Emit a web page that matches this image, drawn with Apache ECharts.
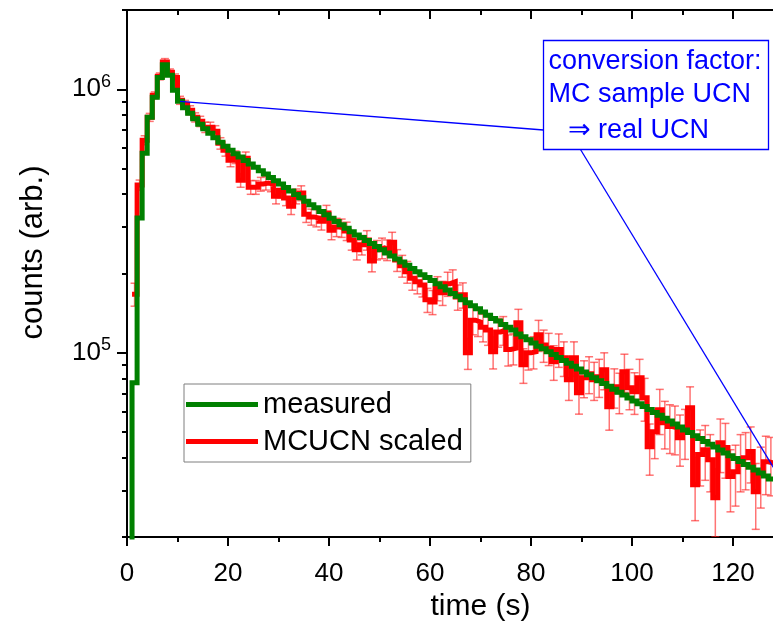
<!DOCTYPE html>
<html>
<head>
<meta charset="utf-8">
<script src="https://cdn.jsdelivr.net/npm/echarts@6/dist/echarts.min.js"></script>
<style>
  html, body { margin: 0; padding: 0; background: #ffffff; }
  #chart { width: 773px; height: 628px; }
</style>
</head>
<body>
<div id="chart"></div>
<script>
// Time histograms with 1 s bins; each array entry is the count of one bin.
const BIN_WIDTH = 1;            // s
const MEASURED_FIRST_BIN = 0;   // left edge of the first measured bin (s)
const MC_FIRST_BIN = 1;         // left edge of the first simulated bin (s)

// measured counts, bins starting at 0 s
const measured = [
  5000, 7.70e4, 3.25e5, 5.72e5, 7.83e5, 9.33e5, 1.11e6, 1.24e6, 1.13e6, 9.91e5,
  9.01e5, 8.51e5, 8.11e5, 7.73e5, 7.37e5, 7.09e5, 6.81e5, 6.55e5, 6.30e5, 6.08e5,
  5.87e5, 5.70e5, 5.53e5, 5.37e5, 5.21e5, 5.06e5, 4.91e5, 4.77e5, 4.63e5, 4.50e5,
  4.37e5, 4.24e5, 4.11e5, 3.99e5, 3.88e5, 3.76e5, 3.65e5, 3.55e5, 3.44e5, 3.34e5,
  3.24e5, 3.15e5, 3.06e5, 2.97e5, 2.88e5, 2.80e5, 2.74e5, 2.67e5, 2.60e5, 2.53e5,
  2.46e5, 2.39e5, 2.33e5, 2.27e5, 2.21e5, 2.15e5, 2.09e5, 2.03e5, 1.98e5, 1.93e5,
  1.88e5, 1.83e5, 1.78e5, 1.73e5, 1.68e5, 1.64e5, 1.59e5, 1.55e5, 1.51e5, 1.47e5,
  1.43e5, 1.39e5, 1.35e5, 1.32e5, 1.28e5, 1.25e5, 1.22e5, 1.18e5, 1.15e5, 1.12e5,
  1.09e5, 1.06e5, 1.036e5, 1.010e5, 9.85e4, 9.60e4, 9.36e4, 9.13e4, 8.90e4, 8.68e4,
  8.46e4, 8.25e4, 8.04e4, 7.84e4, 7.65e4, 7.46e4, 7.27e4, 7.09e4, 6.91e4, 6.74e4,
  6.57e4, 6.41e4, 6.25e4, 6.09e4, 5.94e4, 5.79e4, 5.65e4, 5.51e4, 5.37e4, 5.23e4,
  5.10e4, 4.98e4, 4.85e4, 4.73e4, 4.61e4, 4.50e4, 4.39e4, 4.28e4, 4.17e4, 4.07e4,
  3.97e4, 3.87e4, 3.77e4, 3.68e4, 3.59e4, 3.50e4, 3.41e4, 3.32e4
];

// MCUCN simulation scaled to real UCN, bins starting at 1 s
const mcScaled = [
  1.67e5, 4.33e5, 6.41e5, 7.83e5, 9.49e5, 1.12e6, 1.27e6, 1.16e6, 1.11e6, 9.09e5,
  8.77e5, 8.33e5, 7.83e5, 7.56e5, 7.18e5, 7.18e5, 6.93e5, 6.24e5, 5.87e5, 5.38e5,
  5.53e5, 4.52e5, 5.48e5, 4.25e5, 4.25e5, 4.37e5, 4.41e5, 4.37e5, 3.93e5, 4.14e5,
  3.87e5, 3.60e5, 3.93e5, 4.04e5, 3.36e5, 3.28e5, 3.25e5, 3.16e5, 3.39e5, 2.92e5,
  3.00e5, 2.98e5, 2.90e5, 2.68e5, 2.46e5, 2.57e5, 2.68e5, 2.23e5, 2.46e5, 2.50e5,
  2.46e5, 2.63e5, 2.25e5, 2.14e5, 2.03e5, 1.92e5, 1.86e5, 1.81e5, 1.59e5, 1.56e5,
  1.76e5, 1.69e5, 1.83e5, 1.86e5, 1.63e5, 1.66e5, 1.00e5, 1.33e5, 1.31e5, 1.25e5,
  1.22e5, 1.01e5, 1.20e5, 1.22e5, 1.03e5, 1.04e5, 1.30e5, 9.01e4, 1.00e5, 1.01e5,
  1.17e5, 1.07e5, 1.04e5, 9.25e4, 1.03e5, 9.57e4, 7.90e4, 9.57e4, 7.05e4, 8.04e4,
  8.33e4, 7.90e4, 8.11e4, 8.62e4, 6.24e4, 7.43e4, 7.12e4, 8.48e4, 7.37e4, 7.12e4,
  8.04e4, 6.75e4, 4.40e4, 5.02e4, 6.08e4, 5.43e4, 5.25e4, 5.19e4, 4.76e4, 5.02e4,
  6.19e4, 3.16e4, 4.11e4, 4.29e4, 3.93e4, 2.82e4, 4.56e4, 4.37e4, 3.39e4, 3.54e4,
  3.93e4, 4.00e4, 4.22e4, 2.97e4, 3.48e4, 3.86e4, 3.82e4
];

// relative statistical error of each simulated bin
const mcRelErr = [
  0.10, 0.045, 0.04, 0.035, 0.03, 0.03, 0.03, 0.03, 0.03, 0.035,
  0.035, 0.04, 0.04, 0.045, 0.045, 0.045, 0.05, 0.05, 0.05, 0.055,
  0.055, 0.06, 0.055, 0.06, 0.06, 0.06, 0.06, 0.065, 0.065, 0.065,
  0.065, 0.07, 0.065, 0.065, 0.07, 0.07, 0.075, 0.075, 0.07, 0.08,
  0.08, 0.08, 0.08, 0.085, 0.085, 0.085, 0.085, 0.09, 0.085, 0.09,
  0.09, 0.09, 0.095, 0.095, 0.095, 0.10, 0.10, 0.10, 0.105, 0.105,
  0.105, 0.105, 0.105, 0.11, 0.11, 0.11, 0.135, 0.12, 0.12, 0.12,
  0.125, 0.14, 0.125, 0.125, 0.135, 0.135, 0.125, 0.15, 0.14, 0.14,
  0.135, 0.14, 0.14, 0.15, 0.145, 0.15, 0.165, 0.15, 0.17, 0.16,
  0.16, 0.165, 0.165, 0.16, 0.185, 0.17, 0.175, 0.165, 0.175, 0.18,
  0.175, 0.185, 0.22, 0.21, 0.195, 0.205, 0.21, 0.21, 0.22, 0.215,
  0.20, 0.27, 0.24, 0.235, 0.245, 0.29, 0.23, 0.235, 0.265, 0.26,
  0.245, 0.245, 0.24, 0.28, 0.26, 0.25, 0.25
];

// axes
const X_MIN = 0, X_MAX = 140, X_STEP = 20;
const Y_MIN = 2e4, Y_MAX = 2e6;
const yMajorTicks = [1e5, 1e6];
const yMinorTicks = [2e4, 3e4, 4e4, 5e4, 6e4, 7e4, 8e4, 9e4,
                     2e5, 3e5, 4e5, 5e5, 6e5, 7e5, 8e5, 9e5, 2e6];

// annotation anchors (time, counts) on the measured curve
const noteAnchorStart = [10.5, 9.0e5];
const noteAnchorEnd = [128, 3.67e4];
const noteLines = ['conversion factor:', 'MC sample UCN', '\u21D2 real UCN'];

const FONT = 'Liberation Sans, Arial, Helvetica, sans-serif';

// step outline of a histogram: left edge of every bin plus the closing right edge
function histogramOutline(firstEdge, counts) {
  const pts = counts.map((c, i) => [firstEdge + i * BIN_WIDTH, c]);
  pts.push([firstEdge + counts.length * BIN_WIDTH, counts[counts.length - 1]]);
  return pts;
}

function errorBars(firstEdge, counts, rel) {
  return counts.map((c, i) => [firstEdge + (i + 0.5) * BIN_WIDTH, c * (1 - rel[i]), c * (1 + rel[i])]);
}

const chart = echarts.init(document.getElementById('chart'), null, { renderer: 'canvas' });

const option = {
  animation: false,
  backgroundColor: '#ffffff',
  textStyle: { fontFamily: FONT },
  grid: { left: 127, top: 10, right: -61, bottom: 91, outerBoundsMode: 'none', containLabel: false },
  legend: {
    orient: 'vertical',
    left: 184, top: 384,
    data: ['measured', 'MCUCN scaled'],
    icon: 'rect',
    itemWidth: 72, itemHeight: 5,
    itemGap: 8,
    padding: [6, 8, 6, 2],
    borderColor: '#7f7f7f', borderWidth: 1,
    backgroundColor: '#ffffff',
    textStyle: { fontSize: 29, color: '#000', fontFamily: FONT }
  },
  xAxis: [
    {
      type: 'value', position: 'bottom', min: X_MIN, max: X_MAX, interval: X_STEP,
      name: 'time (s)', nameLocation: 'middle', nameGap: 55,
      nameTextStyle: { fontSize: 30, color: '#000', fontFamily: FONT },
      axisLine: { show: true, onZero: false, lineStyle: { color: '#000', width: 2 } },
      axisTick: { show: true, inside: false, length: 9, lineStyle: { color: '#000', width: 2 } },
      minorTick: { show: true, splitNumber: 2, length: 5, lineStyle: { color: '#000', width: 2 } },
      axisLabel: { show: true, margin: 24, fontSize: 26, color: '#000', fontFamily: FONT },
      splitLine: { show: false }, minorSplitLine: { show: false }
    },
    {
      type: 'value', position: 'top', min: X_MIN, max: X_MAX, interval: X_STEP,
      axisLine: { show: true, onZero: false, lineStyle: { color: '#000', width: 2 } },
      axisTick: { show: true, inside: true, length: 9, lineStyle: { color: '#000', width: 2 } },
      minorTick: { show: true, splitNumber: 2, length: 5, lineStyle: { color: '#000', width: 2 } },
      axisLabel: { show: false },
      splitLine: { show: false }
    }
  ],
  yAxis: [
    {
      type: 'log', logBase: 10, position: 'left', min: Y_MIN, max: Y_MAX,
      name: 'counts (arb.)', nameLocation: 'middle', nameGap: 78, nameRotate: 90,
      nameTextStyle: { fontSize: 31, color: '#000', fontFamily: FONT, padding: [0, 0, 0, 42] },
      axisLine: { show: true, onZero: false, lineStyle: { color: '#000', width: 2 } },
      axisTick: { show: true, inside: false, length: 10, customValues: yMajorTicks,
                  lineStyle: { color: '#000', width: 2 } },
      axisLabel: {
        show: true, margin: 16, customValues: yMajorTicks,
        fontSize: 26, color: '#000', fontFamily: FONT,
        formatter: v => '10{sup|' + Math.round(Math.log10(v)) + '}',
        rich: { sup: { fontSize: 18, color: '#000', fontFamily: FONT, padding: [0, 0, 15, 0] } }
      },
      splitLine: { show: false }
    },
    {
      type: 'log', logBase: 10, position: 'left', min: Y_MIN, max: Y_MAX,
      axisLine: { show: false },
      axisTick: { show: true, inside: false, length: 5, customValues: yMinorTicks,
                  lineStyle: { color: '#000', width: 2 } },
      axisLabel: { show: false },
      splitLine: { show: false }
    }
  ],
  series: [
    {
      name: 'MCUCN errors',
      type: 'custom',
      xAxisIndex: 0, yAxisIndex: 0,
      clip: true,
      z: 2,
      encode: { x: 0, y: [1, 2] },
      data: errorBars(MC_FIRST_BIN, mcScaled, mcRelErr),
      renderItem: function (params, api) {
        const x = api.value(0);
        const lo = api.coord([x, api.value(1)]);
        const hi = api.coord([x, api.value(2)]);
        const cap = 4;
        const style = { stroke: 'rgba(255,30,30,0.62)', lineWidth: 1.5, fill: null };
        return {
          type: 'group',
          children: [
            { type: 'line', shape: { x1: lo[0], y1: lo[1], x2: hi[0], y2: hi[1] }, style },
            { type: 'line', shape: { x1: lo[0] - cap, y1: lo[1], x2: lo[0] + cap, y2: lo[1] }, style },
            { type: 'line', shape: { x1: hi[0] - cap, y1: hi[1], x2: hi[0] + cap, y2: hi[1] }, style }
          ]
        };
      }
    },
    {
      name: 'MCUCN scaled',
      type: 'line',
      xAxisIndex: 0, yAxisIndex: 0,
      step: 'end',
      showSymbol: false, symbol: 'none',
      clip: true,
      z: 3,
      color: '#ff0000',
      lineStyle: { color: '#ff0000', width: 5, join: 'miter' },
      data: histogramOutline(MC_FIRST_BIN, mcScaled)
    },
    {
      name: 'measured',
      type: 'line',
      xAxisIndex: 0, yAxisIndex: 0,
      step: 'end',
      showSymbol: false, symbol: 'none',
      clip: true,
      z: 4,
      color: '#008000',
      lineStyle: { color: '#008000', width: 5, join: 'miter' },
      data: histogramOutline(MEASURED_FIRST_BIN, measured)
    }
  ]
};

chart.setOption(option);

// annotation box with leader lines to the measured curve
const box = { x: 543.5, y: 40.5, w: 225, h: 109 };
const pStart = chart.convertToPixel({ xAxisIndex: 0, yAxisIndex: 0 }, noteAnchorStart);
const pEnd = chart.convertToPixel({ xAxisIndex: 0, yAxisIndex: 0 }, noteAnchorEnd);
const blue = '#0000ff';
chart.setOption({
  graphic: [
    { type: 'line', z: 10, shape: { x1: pStart[0], y1: pStart[1], x2: box.x, y2: box.y + 89.5 },
      style: { stroke: blue, lineWidth: 1.3 } },
    { type: 'line', z: 10, shape: { x1: box.x + 37, y1: box.y + box.h, x2: pEnd[0], y2: pEnd[1] },
      style: { stroke: blue, lineWidth: 1.3 } },
    { type: 'rect', z: 11, shape: { x: box.x, y: box.y, width: box.w, height: box.h },
      style: { fill: '#ffffff', stroke: blue, lineWidth: 1.3 } },
    { type: 'text', z: 12, x: box.x + 5, y: 62,
      style: { text: noteLines[0], font: '27px ' + FONT, fill: blue, verticalAlign: 'middle', align: 'left' } },
    { type: 'text', z: 12, x: box.x + 5, y: 95,
      style: { text: noteLines[1], font: '27px ' + FONT, fill: blue, verticalAlign: 'middle', align: 'left' } },
    { type: 'text', z: 12, x: box.x + 24, y: 131,
      style: { text: noteLines[2], font: '27px ' + FONT, fill: blue, verticalAlign: 'middle', align: 'left' } }
  ]
});
</script>
</body>
</html>
